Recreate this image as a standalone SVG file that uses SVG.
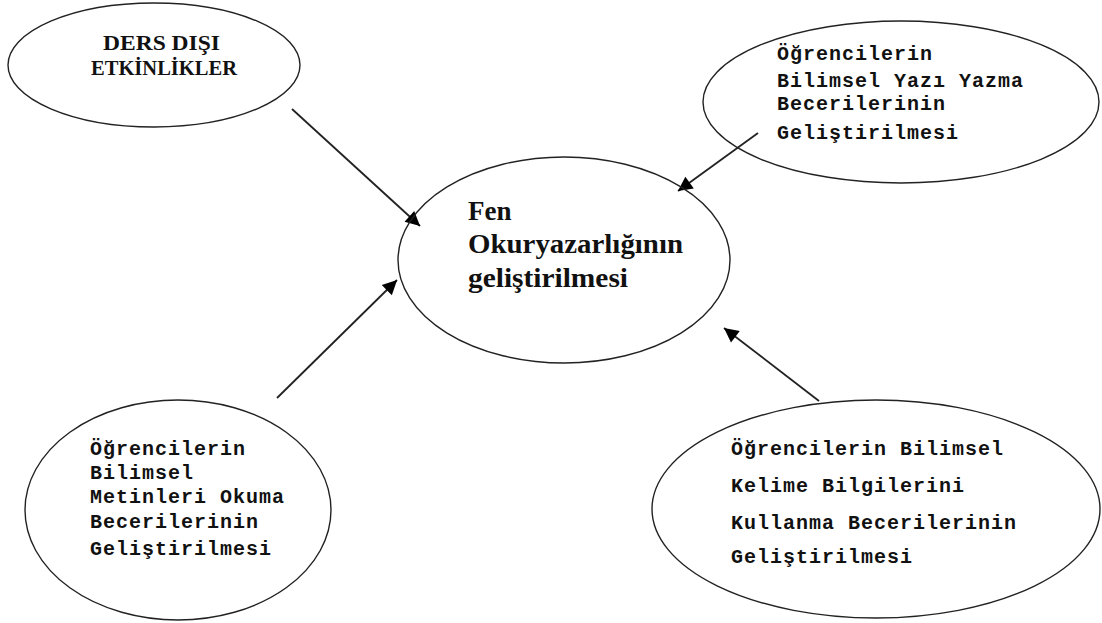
<svg xmlns="http://www.w3.org/2000/svg" width="1102" height="623" viewBox="0 0 1102 623">
<style>
.el{fill:none;stroke:#222;stroke-width:1.4}
.mono{font-family:"Liberation Mono","Courier New",monospace;font-weight:bold;font-size:20px;letter-spacing:1px;fill:#111}
.caps{font-family:"Liberation Serif","Times New Roman",serif;font-weight:bold;font-size:22px;fill:#111}
.serif{font-family:"Liberation Serif","Times New Roman",serif;font-weight:bold;font-size:27px;fill:#111}
.arr{stroke:#222;stroke-width:1.8;fill:none;marker-end:url(#ah)}
</style>
<defs>
<marker id="ah" viewBox="0 0 10 10" refX="10" refY="5" markerWidth="8" markerHeight="8" markerUnits="userSpaceOnUse" orient="auto" overflow="visible">
<path d="M0,0 L10,5 L0,10 z" fill="#000" transform="scale(1.8) translate(-4.4,-2.2)"/>
</marker>
</defs>
<rect width="1102" height="623" fill="#fff"/>
<g id="connectors">
<line class="arr" x1="292" y1="109" x2="420" y2="226"/>
<line class="arr" x1="758" y1="133" x2="678" y2="191"/>
<line class="arr" x1="277" y1="398" x2="397" y2="280"/>
<line class="arr" x1="819" y1="401" x2="724" y2="328"/>
</g>
<g id="node-ders">
<ellipse class="el" cx="154" cy="65" rx="146" ry="62"/>
<text class="caps" x="103" y="50" textLength="117" lengthAdjust="spacingAndGlyphs">DERS DIŞI</text>
<text class="caps" x="91" y="75" textLength="146" lengthAdjust="spacingAndGlyphs">ETKİNLİKLER</text>
</g>
<g id="node-yazi">
<ellipse class="el" cx="901" cy="102" rx="198" ry="81"/>
<text class="mono" x="777" y="60">Öğrencilerin</text>
<text class="mono" x="777" y="87">Bilimsel Yazı Yazma</text>
<text class="mono" x="777" y="110">Becerilerinin</text>
<text class="mono" x="777" y="139">Geliştirilmesi</text>
</g>
<g id="node-center">
<ellipse class="el" cx="564" cy="260" rx="166" ry="103"/>
<text class="serif" x="468" y="220">Fen</text>
<text class="serif" x="468" y="253" textLength="215" lengthAdjust="spacingAndGlyphs">Okuryazarlığının</text>
<text class="serif" x="468" y="287" textLength="160" lengthAdjust="spacingAndGlyphs">geliştirilmesi</text>
</g>
<g id="node-okuma">
<ellipse class="el" cx="178" cy="510" rx="153" ry="110"/>
<text class="mono" x="90" y="455">Öğrencilerin</text>
<text class="mono" x="90" y="479">Bilimsel</text>
<text class="mono" x="90" y="503">Metinleri Okuma</text>
<text class="mono" x="90" y="528">Becerilerinin</text>
<text class="mono" x="90" y="555">Geliştirilmesi</text>
</g>
<g id="node-kelime">
<ellipse class="el" cx="876" cy="509" rx="224" ry="109"/>
<text class="mono" x="731" y="455">Öğrencilerin Bilimsel</text>
<text class="mono" x="731" y="492">Kelime Bilgilerini</text>
<text class="mono" x="731" y="529">Kullanma Becerilerinin</text>
<text class="mono" x="731" y="563">Geliştirilmesi</text>
</g>
</svg>
